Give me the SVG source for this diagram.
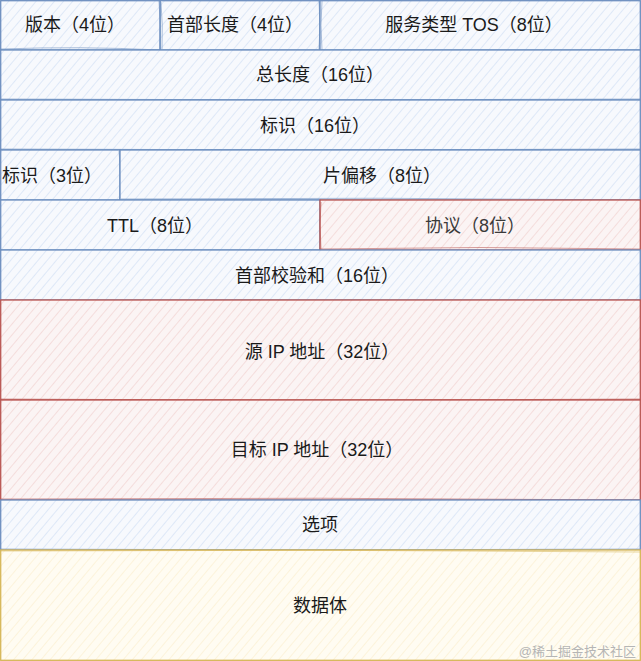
<svg xmlns="http://www.w3.org/2000/svg" width="641" height="661" viewBox="0 0 641 661">
<defs>
<pattern id="hb" patternUnits="userSpaceOnUse" width="7" height="7" patternTransform="rotate(40)">
<rect width="7" height="7" fill="#f7f9fd"/>
<line x1="0" y1="0" x2="0" y2="7" stroke="#d4e1f5" stroke-width="1.4"/>
</pattern>
<pattern id="hr" patternUnits="userSpaceOnUse" width="7" height="7" patternTransform="rotate(40)">
<rect width="7" height="7" fill="#fbf4f4"/>
<line x1="0" y1="0" x2="0" y2="7" stroke="#f1d3d2" stroke-width="1.4"/>
</pattern>
<pattern id="hy" patternUnits="userSpaceOnUse" width="7" height="7" patternTransform="rotate(40)">
<rect width="7" height="7" fill="#fffcf2"/>
<line x1="0" y1="0" x2="0" y2="7" stroke="#fbf0d2" stroke-width="1.4"/>
</pattern>
</defs>
<style>
.b{fill:url(#hb);stroke:#6c8ebf;stroke-width:1.3}
.r{fill:url(#hr);stroke:#b85450;stroke-width:1.3}
.y{fill:url(#hy);stroke:#d6b656;stroke-width:1.3}
.s{fill:none;stroke-width:0.8;opacity:0.7}
.sb{stroke:#6c8ebf}.sr{stroke:#b85450}.sy{stroke:#d6b656}
text{font-family:"Liberation Sans","Noto Sans CJK SC",sans-serif;font-size:18px;fill:#1a1a1a;text-anchor:middle;dominant-baseline:central}
.wm{font-size:13px;fill:#b5b5b5;text-anchor:end}
</style>
<rect width="641" height="661" fill="#ffffff"/>
<g id="version"><rect class="b" x="0.7" y="0.7" width="159.5" height="49.3"/><path class="s sb" d="M1 49 Q80 46 160 50 M159 1 Q161 25 160 49"/><text x="75" y="25">版本（4位）</text></g>
<g id="ihl"><rect class="b" x="160.2" y="0.7" width="159.8" height="49.3"/><path class="s sb" d="M161 2 Q163 25 162 49 M319 1 Q321 25 319 49"/><text x="235" y="25">首部长度（4位）</text></g>
<g id="tos"><rect class="b" x="320" y="0.7" width="320.3" height="49.3"/><path class="s sb" d="M322 1 Q320 25 322 50"/><text x="474" y="25">服务类型 TOS（8位）</text></g>
<g id="total-length"><rect class="b" x="0.7" y="50" width="639.6" height="50"/><path class="s sb" d="M1 99 Q320 101 640 99"/><text x="320" y="75">总长度（16位）</text></g>
<g id="identification"><rect class="b" x="0.7" y="100" width="639.6" height="50"/><path class="s sb" d="M1 149 Q320 151 640 149"/><text x="315" y="126">标识（16位）</text></g>
<g id="flags"><rect class="b" x="0.7" y="150" width="119.3" height="50"/><path class="s sb" d="M119 151 Q122 175 120 199"/><text x="52" y="176">标识（3位）</text></g>
<g id="fragment-offset"><rect class="b" x="120" y="150" width="520.3" height="50"/><path class="s sb" d="M121 199 Q380 197 640 200"/><text x="382" y="176">片偏移（8位）</text></g>
<g id="ttl"><rect class="b" x="0.7" y="200" width="319.3" height="50"/><text x="155" y="226">TTL（8位）</text></g>
<g id="protocol"><rect class="r" x="320" y="200" width="320.3" height="50"/><path class="s sr" d="M321 202 Q319 225 321 249 M320 249 Q480 246 640 249"/><text x="475" y="226" style="fill:#3a3a3a">协议（8位）</text></g>
<g id="checksum"><rect class="b" x="0.7" y="250" width="639.6" height="50"/><text x="317" y="276">首部校验和（16位）</text></g>
<g id="source-ip"><rect class="r" x="0.7" y="300" width="639.6" height="100"/><path class="s sr" d="M1 399 Q320 402 640 399"/><text x="322" y="352">源 IP 地址（32位）</text></g>
<g id="dest-ip"><rect class="r" x="0.7" y="400" width="639.6" height="100"/><path class="s sr" d="M1 499 Q320 497 640 500"/><text x="317" y="450">目标 IP 地址（32位）</text></g>
<g id="options"><rect class="b" x="0.7" y="500" width="639.6" height="50"/><path class="s sb" d="M1 549 Q320 551 640 549"/><text x="320" y="525">选项</text></g>
<g id="data"><rect class="y" x="0.7" y="550" width="639.6" height="110.3"/><path class="s sy" d="M1 551 Q320 549 640 552"/><text x="320" y="606">数据体</text></g>
<text class="wm" x="636" y="651">@稀土掘金技术社区</text>
</svg>
